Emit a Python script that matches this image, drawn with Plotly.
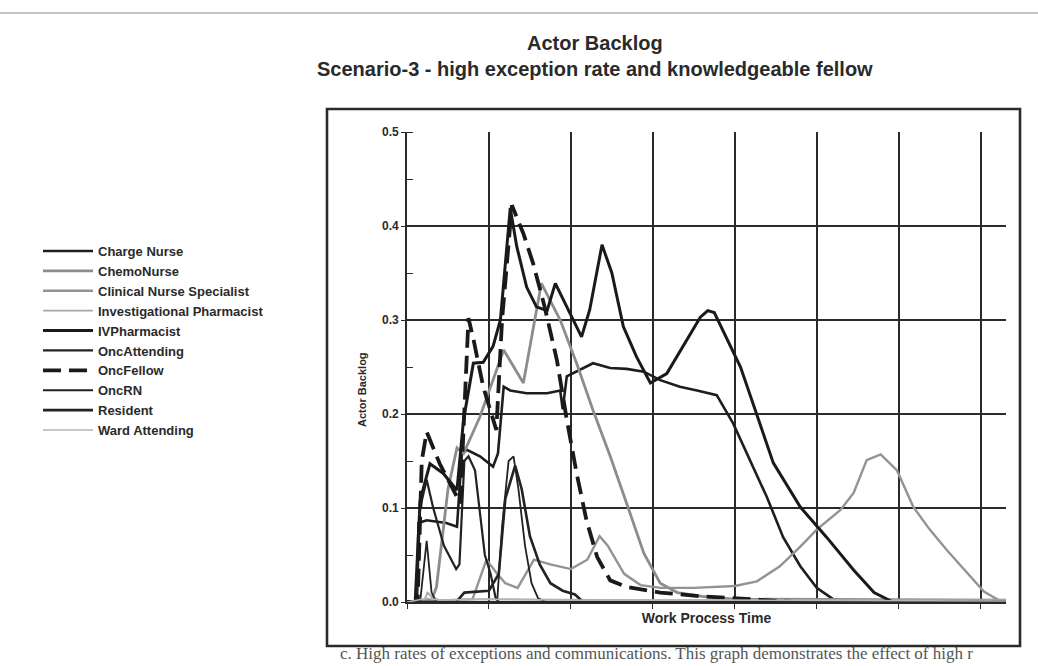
import plotly.graph_objects as go

# ---------------- data ----------------
chargenurse_x = [0.0, 0.12, 0.14, 0.24, 0.48, 0.61, 0.67, 0.73, 0.89, 1.05, 1.11, 1.18, 1.26, 1.46, 1.71, 1.87, 1.90, 1.95, 2.27, 2.48, 2.68, 2.89, 3.09, 3.33, 3.54, 3.78, 3.98, 4.19, 4.39, 4.59, 4.80, 5.00, 5.20, 5.40, 7.31]
chargenurse_y = [0.0, 0.0, 0.084, 0.087, 0.084, 0.080, 0.158, 0.162, 0.155, 0.144, 0.158, 0.229, 0.225, 0.222, 0.222, 0.225, 0.205, 0.240, 0.254, 0.249, 0.248, 0.245, 0.236, 0.229, 0.225, 0.220, 0.190, 0.151, 0.112, 0.069, 0.038, 0.015, 0.003, 0.0, 0.0]

chemonurse_x = [0.0, 0.30, 0.36, 0.50, 0.61, 0.69, 0.89, 1.18, 1.42, 1.64, 1.87, 2.07, 2.27, 2.48, 2.68, 2.89, 3.09, 3.30, 3.60, 4.00, 7.31]
chemonurse_y = [0.0, 0.002, 0.016, 0.120, 0.164, 0.158, 0.197, 0.268, 0.233, 0.339, 0.300, 0.254, 0.204, 0.155, 0.105, 0.052, 0.020, 0.010, 0.006, 0.003, 0.002]

cns_x = [0.0, 0.80, 0.97, 1.10, 1.20, 1.35, 1.55, 1.75, 2.00, 2.20, 2.35, 2.45, 2.65, 2.85, 3.10, 3.50, 4.00, 4.27, 4.55, 4.80, 5.00, 5.29, 5.45, 5.61, 5.78, 5.98, 6.18, 6.38, 6.59, 6.83, 7.04, 7.24, 7.31]
cns_y = [0.0, 0.003, 0.045, 0.030, 0.020, 0.015, 0.045, 0.040, 0.035, 0.045, 0.070, 0.060, 0.030, 0.018, 0.015, 0.015, 0.017, 0.022, 0.038, 0.059, 0.077, 0.098, 0.116, 0.151, 0.157, 0.140, 0.101, 0.077, 0.055, 0.031, 0.011, 0.001, 0.0]

invpharm_x = [0.0, 0.20, 0.25, 0.32, 0.40, 1.00, 3.00, 7.31]
invpharm_y = [0.0, 0.0, 0.010, 0.004, 0.002, 0.003, 0.002, 0.002]

ivpharm_x = [0.0, 0.10, 0.16, 0.28, 0.44, 0.61, 0.69, 0.81, 0.93, 1.05, 1.14, 1.26, 1.34, 1.46, 1.58, 1.71, 1.81, 1.91, 2.03, 2.13, 2.23, 2.38, 2.50, 2.64, 2.80, 2.97, 3.17, 3.37, 3.58, 3.67, 3.75, 4.07, 4.47, 4.80, 5.12, 5.45, 5.70, 5.93, 7.31]
ivpharm_y = [0.0, 0.0, 0.108, 0.147, 0.137, 0.119, 0.194, 0.254, 0.255, 0.272, 0.300, 0.419, 0.378, 0.335, 0.314, 0.310, 0.339, 0.321, 0.300, 0.282, 0.311, 0.380, 0.350, 0.293, 0.261, 0.233, 0.243, 0.272, 0.303, 0.310, 0.308, 0.250, 0.148, 0.101, 0.069, 0.034, 0.010, 0.0, 0.0]

oncattending_x = [0.0, 0.12, 0.16, 0.24, 0.32, 0.45, 0.60, 0.64, 0.70, 0.75, 0.83, 0.88, 0.95, 1.02, 1.08, 1.12, 7.31]
oncattending_y = [0.0, 0.0, 0.100, 0.130, 0.100, 0.060, 0.035, 0.040, 0.150, 0.155, 0.140, 0.100, 0.050, 0.030, 0.005, 0.0, 0.0]

oncfellow_x = [0.0, 0.13, 0.18, 0.24, 0.40, 0.57, 0.65, 0.75, 0.81, 0.93, 1.05, 1.09, 1.16, 1.28, 1.42, 1.54, 1.68, 1.83, 1.95, 2.07, 2.19, 2.32, 2.48, 2.68, 3.09, 3.60, 4.20, 4.70, 7.31]
oncfellow_y = [0.0, 0.0, 0.150, 0.181, 0.147, 0.119, 0.105, 0.302, 0.280, 0.229, 0.194, 0.183, 0.300, 0.422, 0.392, 0.360, 0.314, 0.257, 0.194, 0.137, 0.087, 0.048, 0.023, 0.016, 0.010, 0.006, 0.003, 0.0, 0.0]

oncrn_x = [0.0, 0.16, 0.24, 0.30, 0.36, 1.10, 1.16, 1.24, 1.30, 1.36, 1.44, 1.52, 1.60, 1.70, 7.31]
oncrn_y = [0.0, 0.0, 0.065, 0.010, 0.0, 0.0, 0.080, 0.150, 0.155, 0.120, 0.060, 0.020, 0.004, 0.0, 0.0]

resident_x = [0.0, 0.60, 0.70, 1.00, 1.12, 1.20, 1.32, 1.40, 1.50, 1.62, 1.75, 1.90, 2.05, 2.15, 7.31]
resident_y = [0.0, 0.0, 0.010, 0.012, 0.030, 0.110, 0.145, 0.120, 0.070, 0.040, 0.020, 0.012, 0.008, 0.0, 0.0]

wardatt_x = [0.0, 0.25, 0.40, 1.00, 2.00, 4.00, 7.31]
wardatt_y = [0.0, 0.004, 0.002, 0.003, 0.002, 0.002, 0.001]

y_ticks = [0.0, 0.1, 0.2, 0.3, 0.4, 0.5]
y_tick_labels = ["0.0", "0.1", "0.2", "0.3", "0.4", "0.5"]

title_line1 = "Actor Backlog"
title_line2 = "Scenario-3 - high exception rate and knowledgeable fellow"
x_title = "Work Process Time"
y_title = "Actor Backlog"
caption = "c. High rates of exceptions and communications. This graph demonstrates the effect of high r"

series = [
    ("Charge Nurse", chargenurse_x, chargenurse_y, dict(color="#1e1e1e", width=2.6)),
    ("ChemoNurse", chemonurse_x, chemonurse_y, dict(color="#8c8c8c", width=2.8)),
    ("Clinical Nurse Specialist", cns_x, cns_y, dict(color="#939393", width=2.4)),
    ("Investigational Pharmacist", invpharm_x, invpharm_y, dict(color="#a8a8a8", width=1.8)),
    ("IVPharmacist", ivpharm_x, ivpharm_y, dict(color="#1a1a1a", width=3.0)),
    ("OncAttending", oncattending_x, oncattending_y, dict(color="#222222", width=2.2)),
    ("OncFellow", oncfellow_x, oncfellow_y, dict(color="#1a1a1a", width=3.8, dash="18px,8px")),
    ("OncRN", oncrn_x, oncrn_y, dict(color="#222222", width=1.8)),
    ("Resident", resident_x, resident_y, dict(color="#222222", width=2.6)),
    ("Ward Attending", wardatt_x, wardatt_y, dict(color="#b4b4b4", width=1.6)),
]

fig = go.Figure()
for name, xs, ys, line in series:
    fig.add_trace(go.Scatter(x=xs, y=ys, mode="lines", name=name, line=line))

FONT = "Liberation Sans, Arial, sans-serif"
INK = "#2a2a2a"
W, H = 1038, 666
L, R, T, B = 407, 32, 132, 64
pw, ph = W - L - R, H - T - B

def px_x(p):
    return (p - L) / pw

def px_y(p):
    return (H - B - p) / ph

fig.update_layout(
    width=W, height=H,
    margin=dict(l=L, r=R, t=T, b=B),
    paper_bgcolor="white", plot_bgcolor="white",
    font=dict(family=FONT, size=12, color=INK),
    showlegend=True,
    legend=dict(
        x=px_x(38), y=px_y(236), xanchor="left", yanchor="top",
        font=dict(family=FONT, size=13, color=INK, weight="bold"),
        bgcolor="rgba(0,0,0,0)", itemwidth=50, tracegroupgap=0,
    ),
    xaxis=dict(
        range=[0, 7.31], dtick=1, tick0=0, showticklabels=False,
        showgrid=True, gridcolor=INK, gridwidth=1.6,
        zeroline=False, showline=True, linecolor=INK, linewidth=1.6,
        ticks="outside", ticklen=5, tickcolor=INK, tickwidth=1.2,
        title=dict(text="<b>" + x_title + "</b>", font=dict(family=FONT, size=14, color=INK), standoff=5),
        fixedrange=True,
    ),
    yaxis=dict(
        range=[0, 0.5], tickvals=y_ticks, ticktext=["<b>" + t + "</b>" for t in y_tick_labels],
        tickfont=dict(family=FONT, size=12, color=INK),
        showgrid=True, gridcolor=INK, gridwidth=1.6,
        zeroline=False, showline=True, linecolor=INK, linewidth=1.6,
        ticks="outside", ticklen=4, tickcolor=INK, tickwidth=1.2,
        minor=dict(dtick=0.05, ticks="inside", ticklen=6, tickcolor=INK, tickwidth=1.2, showgrid=False),
        fixedrange=True,
    ),
    shapes=[
        dict(type="rect", xref="paper", yref="paper",
             x0=px_x(327), x1=px_x(1020), y0=px_y(646), y1=px_y(109),
             line=dict(color=INK, width=2.6), fillcolor="rgba(0,0,0,0)", layer="below"),
        dict(type="line", xref="paper", yref="paper",
             x0=px_x(0), x1=px_x(1038), y0=px_y(13), y1=px_y(13),
             line=dict(color="#8a8a8a", width=1.2)),
    ],
    annotations=[
        dict(text="<b>" + title_line1 + "</b><br><b>" + title_line2 + "</b>",
             xref="paper", yref="paper", x=px_x(595), y=px_y(56),
             xanchor="center", yanchor="middle", showarrow=False,
             font=dict(family=FONT, size=20, color=INK)),
        dict(text="<b>" + y_title + "</b>", textangle=-90,
             xref="paper", yref="paper", x=px_x(362), y=px_y(390),
             xanchor="center", yanchor="middle", showarrow=False,
             font=dict(family=FONT, size=11, color=INK)),
        dict(text=caption,
             xref="paper", yref="paper", x=px_x(338), y=px_y(665),
             xanchor="left", yanchor="bottom", showarrow=False,
             font=dict(family="Liberation Serif, DejaVu Serif, serif", size=17, color="#555555")),
    ],
)

fig.write_html("out.html")
